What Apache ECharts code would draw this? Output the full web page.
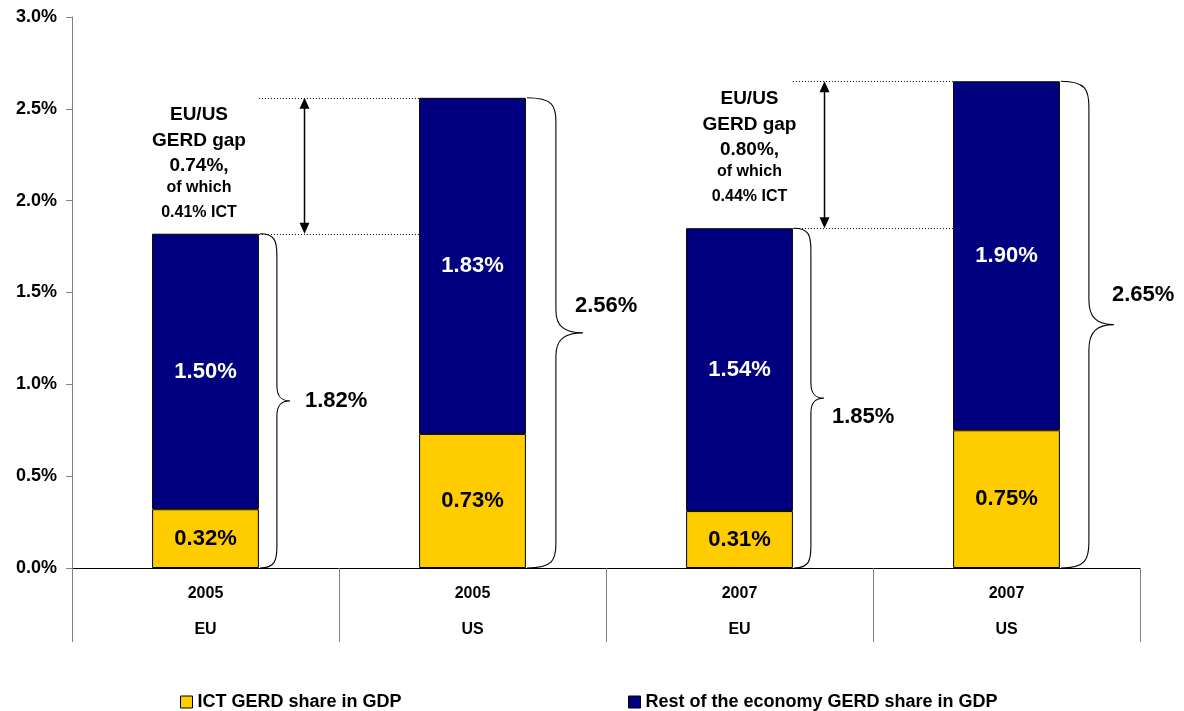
<!DOCTYPE html>
<html>
<head>
<meta charset="utf-8">
<script src="https://cdn.jsdelivr.net/npm/echarts@6/dist/echarts.min.js"></script>
<style>
html,body{margin:0;padding:0;background:#fff;}
#chart{width:1184px;height:711px;}
</style>
</head>
<body>
<div id="chart"></div>
<script>
// ---- data ----
const years = ['2005', '2005', '2007', '2007'];
const regions = ['EU', 'US', 'EU', 'US'];
const ictValues = [0.32, 0.73, 0.31, 0.75];
const restValues = [1.50, 1.83, 1.54, 1.90];
const seriesNames = ['ICT GERD share in GDP', 'Rest of the economy GERD share in GDP'];
const gapPairs = [[0, 1], [2, 3]]; // EU index, US index

// ---- layout / style (annotation offsets in px) ----
const FONT = '"Liberation Sans", Arial, sans-serif';
const BAR_FRAC = 0.4;
const braceLayout = [
  { w1: 17, w2: 30, r: 22, rm: 15, ldx: 15, ldy: 0 },
  { w1: 29, w2: 56, r: 24, rm: 23, ldx: -8, ldy: -27 },
  { w1: 17, w2: 30, r: 22, rm: 15, ldx: 8, ldy: 19 },
  { w1: 28, w2: 53, r: 26, rm: 25, ldx: -2, ldy: -30 }
];
const gapLayout = [
  { arrowDx: 45, textDx: -6.5 },
  { arrowDx: 31, textDx: 10 }
];
const gapTextOffsets = [17, 43, 68, 90, 115]; // from US bar top

const totals = ictValues.map((v, i) => Math.round((v + restValues[i]) * 100) / 100);
const braceData = totals.map((t, i) => [i, t]);
const gapData = gapPairs.map(([e, u]) => [e, u, totals[e], totals[u], ictValues[e], ictValues[u]]);

function bracePath(x0, yTop, yBot, L) {
  const xv = x0 + L.w1, xt = x0 + L.w2, ym = (yTop + yBot) / 2;
  const r = L.r, rm = L.rm;
  return 'M' + x0 + ',' + yTop +
    ' C' + (x0 + L.w1 * 0.9) + ',' + yTop + ' ' + xv + ',' + (yTop + r * 0.35) + ' ' + xv + ',' + (yTop + r) +
    ' L' + xv + ',' + (ym - rm) +
    ' C' + xv + ',' + (ym - rm * 0.3) + ' ' + (xv + (xt - xv) * 0.3) + ',' + ym + ' ' + xt + ',' + ym +
    ' C' + (xv + (xt - xv) * 0.3) + ',' + ym + ' ' + xv + ',' + (ym + rm * 0.3) + ' ' + xv + ',' + (ym + rm) +
    ' L' + xv + ',' + (yBot - r) +
    ' C' + xv + ',' + (yBot - r * 0.35) + ' ' + (x0 + L.w1 * 0.9) + ',' + yBot + ' ' + x0 + ',' + yBot;
}

function txt(x, y, text, size, align, vAlign) {
  return {
    type: 'text',
    style: {
      x: x, y: y, text: text,
      font: 'bold ' + size + 'px ' + FONT,
      fill: '#000',
      align: align, verticalAlign: vAlign,
      textAlign: align, textVerticalAlign: vAlign
    }
  };
}

const chart = echarts.init(document.getElementById('chart'), null, { renderer: 'canvas' });

const option = {
  animation: false,
  backgroundColor: '#fff',
  grid: { left: 72, right: 44, top: 17, bottom: 143, containLabel: false },
  legend: [
    {
      data: [seriesNames[0]], left: 175, top: 688, icon: 'rect', itemWidth: 12, itemHeight: 12,
      itemStyle: { borderColor: '#000', borderWidth: 1 },
      textStyle: { fontFamily: FONT, fontWeight: 'bold', fontSize: 18, color: '#000' }
    },
    {
      data: [seriesNames[1]], left: 623, top: 688, icon: 'rect', itemWidth: 12, itemHeight: 12,
      itemStyle: { borderColor: '#000', borderWidth: 1 },
      textStyle: { fontFamily: FONT, fontWeight: 'bold', fontSize: 18, color: '#000' }
    }
  ],
  xAxis: {
    type: 'category',
    data: years.map((y, i) => y + '\n' + regions[i]),
    axisLine: { lineStyle: { color: '#000', width: 1 } },
    axisTick: { show: true, length: 74, lineStyle: { color: '#808080', width: 1 } },
    axisLabel: {
      fontFamily: FONT, fontWeight: 'bold', fontSize: 16, color: '#000',
      lineHeight: 36, margin: 8, interval: 0
    },
    splitLine: { show: false }
  },
  yAxis: {
    type: 'value', min: 0, max: 3, interval: 0.5,
    axisLine: { show: true, lineStyle: { color: '#808080', width: 1 } },
    axisTick: { show: true, length: 6, lineStyle: { color: '#808080' } },
    axisLabel: {
      fontFamily: FONT, fontWeight: 'bold', fontSize: 18, color: '#000', margin: 15,
      formatter: v => v.toFixed(1) + '%'
    },
    splitLine: { show: false }
  },
  series: [
    {
      name: seriesNames[0], type: 'bar', stack: 'gerd', data: ictValues,
      barWidth: (BAR_FRAC * 100) + '%',
      itemStyle: { color: '#FFCC00', borderColor: '#000', borderWidth: 1 },
      label: {
        show: true, position: 'inside', color: '#000', fontFamily: FONT, fontWeight: 'bold', fontSize: 22,
        formatter: p => p.value.toFixed(2) + '%'
      }
    },
    {
      name: seriesNames[1], type: 'bar', stack: 'gerd', data: restValues,
      barWidth: (BAR_FRAC * 100) + '%',
      itemStyle: { color: '#000080', borderColor: '#000', borderWidth: 1 },
      label: {
        show: true, position: 'inside', color: '#fff', fontFamily: FONT, fontWeight: 'bold', fontSize: 22,
        formatter: p => p.value.toFixed(2) + '%'
      }
    },
    {
      name: 'braces', type: 'custom', data: braceData, encode: { x: 0, y: 1 }, clip: false, silent: true, z: 5,
      renderItem: function (params, api) {
        const i = api.value(0), tot = api.value(1);
        const band = api.size([1, 0])[0];
        const top = api.coord([i, tot]);
        const bot = api.coord([i, 0]);
        const x0 = top[0] + band * BAR_FRAC / 2 + 1;
        const L = braceLayout[params.dataIndex];
        const ym = (top[1] + bot[1]) / 2;
        return {
          type: 'group',
          children: [
            {
              type: 'path',
              shape: { pathData: bracePath(x0, top[1], bot[1], L) },
              style: { stroke: '#000', fill: null, lineWidth: 1.1 }
            },
            txt(x0 + L.w2 + L.ldx, ym + L.ldy, tot.toFixed(2) + '%', 22, 'left', 'middle')
          ]
        };
      }
    },
    {
      name: 'gaps', type: 'custom', data: gapData, encode: { x: 0, y: 3 }, clip: false, silent: true, z: 5,
      renderItem: function (params, api) {
        const e = api.value(0), u = api.value(1);
        const eTot = api.value(2), uTot = api.value(3), eIct = api.value(4), uIct = api.value(5);
        const band = api.size([1, 0])[0];
        const half = band * BAR_FRAC / 2;
        const eTop = api.coord([e, eTot]);
        const uTop = api.coord([u, uTot]);
        const L = gapLayout[params.dataIndex];
        const xs = eTop[0] + half, xe = uTop[0] - half;
        const ax = Math.round(xs + L.arrowDx) + 0.5;
        const y1 = uTop[1], y2 = eTop[1];
        const ah = 11, aw = 5;
        const tx = eTop[0] + L.textDx;
        const gap = (uTot - eTot).toFixed(2), ictGap = (uIct - eIct).toFixed(2);
        const o = gapTextOffsets;
        return {
          type: 'group',
          children: [
            { type: 'line', shape: { x1: xs, y1: Math.round(y1) + 0.5, x2: xe, y2: Math.round(y1) + 0.5 },
              style: { stroke: '#000', lineWidth: 1, lineDash: [1, 2] } },
            { type: 'line', shape: { x1: xs, y1: Math.round(y2) + 0.5, x2: xe, y2: Math.round(y2) + 0.5 },
              style: { stroke: '#000', lineWidth: 1, lineDash: [1, 2] } },
            { type: 'line', shape: { x1: ax, y1: y1 + ah - 1, x2: ax, y2: y2 - ah + 1 },
              style: { stroke: '#000', lineWidth: 1.5 } },
            { type: 'polygon', shape: { points: [[ax, y1], [ax - aw, y1 + ah], [ax + aw, y1 + ah]] },
              style: { fill: '#000' } },
            { type: 'polygon', shape: { points: [[ax, y2], [ax - aw, y2 - ah], [ax + aw, y2 - ah]] },
              style: { fill: '#000' } },
            txt(tx, y1 + o[0], 'EU/US', 19, 'center', 'middle'),
            txt(tx, y1 + o[1], 'GERD gap', 19, 'center', 'middle'),
            txt(tx, y1 + o[2], gap + '%,', 19, 'center', 'middle'),
            txt(tx, y1 + o[3], 'of which', 16, 'center', 'middle'),
            txt(tx, y1 + o[4], ictGap + '% ICT', 16, 'center', 'middle')
          ]
        };
      }
    }
  ]
};

chart.setOption(option);
</script>
</body>
</html>
